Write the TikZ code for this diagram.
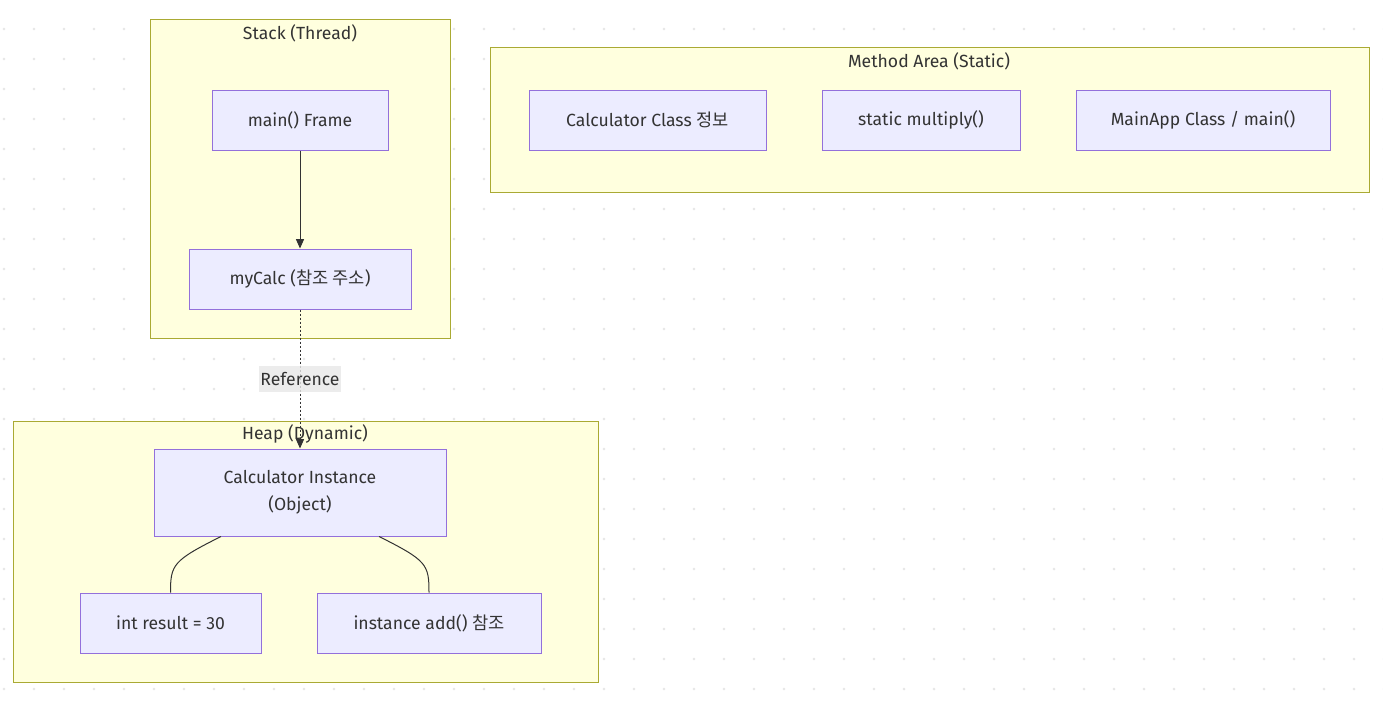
\documentclass[tikz,border=0pt]{standalone}
\usepackage{fontspec}
\setmainfont{Fira Sans}
\newfontfamily\kr{Noto Sans CJK KR}
\usetikzlibrary{arrows.meta}
\definecolor{clusterfill}{HTML}{FFFFDE}
\definecolor{clusterline}{HTML}{AAAA33}
\definecolor{boxfill}{HTML}{ECECFF}
\definecolor{boxline}{HTML}{9370DB}
\definecolor{ink}{HTML}{333333}
\definecolor{griddot}{HTML}{E6E6E6}
\definecolor{labelbg}{HTML}{E8E8E8}
\tikzset{
  cluster/.style={draw=clusterline, fill=clusterfill, line width=0.75pt},
  title/.style={text=ink, font=\fontsize{13.2}{16}\selectfont, inner sep=0pt},
  box/.style={draw=boxline, fill=boxfill, line width=0.75pt, text=ink, inner sep=0pt,
    minimum height=60*0.75pt, font=\fontsize{13.2}{20}\selectfont},
  edge/.style={draw=ink, line width=0.75pt},
  reflabel/.style={fill=labelbg, fill opacity=0.8, text opacity=1, text=ink, inner sep=0pt,
    minimum width=82*0.75pt, minimum height=26*0.75pt, font=\fontsize{13.2}{16}\selectfont}
}
\begin{document}
\begin{tikzpicture}[x=0.75pt, y=-0.75pt]
\useasboundingbox (0,0) rectangle (1383,701);
\fill[white] (0,0) rectangle (1383,701);
\foreach \x in {4,34,...,1384}
  \foreach \y in {29,59,...,689}
    \fill[griddot] (\x,\y) circle (1.1pt);

% Stack
\draw[cluster] (150,19) rectangle (450,338);
\node[title] (stacktitle) at (300,33) {Stack (Thread)};
\node[box, minimum width=176*0.75pt] (mainframe) at (300,120) {main() Frame};
\node[box, minimum width=222*0.75pt] (mycalc) at (300,279) {myCalc ({\kr 참조 주소})};

% Method Area
\draw[cluster] (490,47) rectangle (1369,192);
\node[title] (methodtitle) at (929,61) {Method Area (Static)};
\node[box, minimum width=237*0.75pt] (calcclass) at (647.5,120) {Calculator Class {\kr 정보}};
\node[box, minimum width=198*0.75pt] (multiply) at (921,120) {static multiply()};
\node[box, minimum width=254*0.75pt] (mainapp) at (1203,120) {MainApp Class / main()};

% Heap
\draw[cluster] (13,421) rectangle (598,682);
\node[title] (heaptitle) at (305,434) {Heap (Dynamic)};
\node[box, minimum width=292*0.75pt, minimum height=87*0.75pt, align=center] (instance) at (300,492.5) {Calculator Instance\\(Object)};
\node[box, minimum width=181*0.75pt] (result) at (170.5,623) {int result = 30};
\node[box, minimum width=224*0.75pt] (addref) at (429,623) {instance add() {\kr 참조}};

\draw[edge, -{Triangle[length=7pt,width=6pt]}] (mainframe) -- (mycalc);
\draw[edge, dash pattern=on 1.5pt off 1.5pt, -{Triangle[length=7pt,width=6pt]}] (mycalc) -- node[reflabel] (reflbl) {Reference} (instance);
\draw[edge] ([xshift=-79*0.75pt]instance.south) .. controls +(-48,24) and +(0,-28) .. (result.north);
\draw[edge] ([xshift=79*0.75pt]instance.south) .. controls +(48,24) and +(0,-28) .. (addref.north);
\end{tikzpicture}
\end{document}
